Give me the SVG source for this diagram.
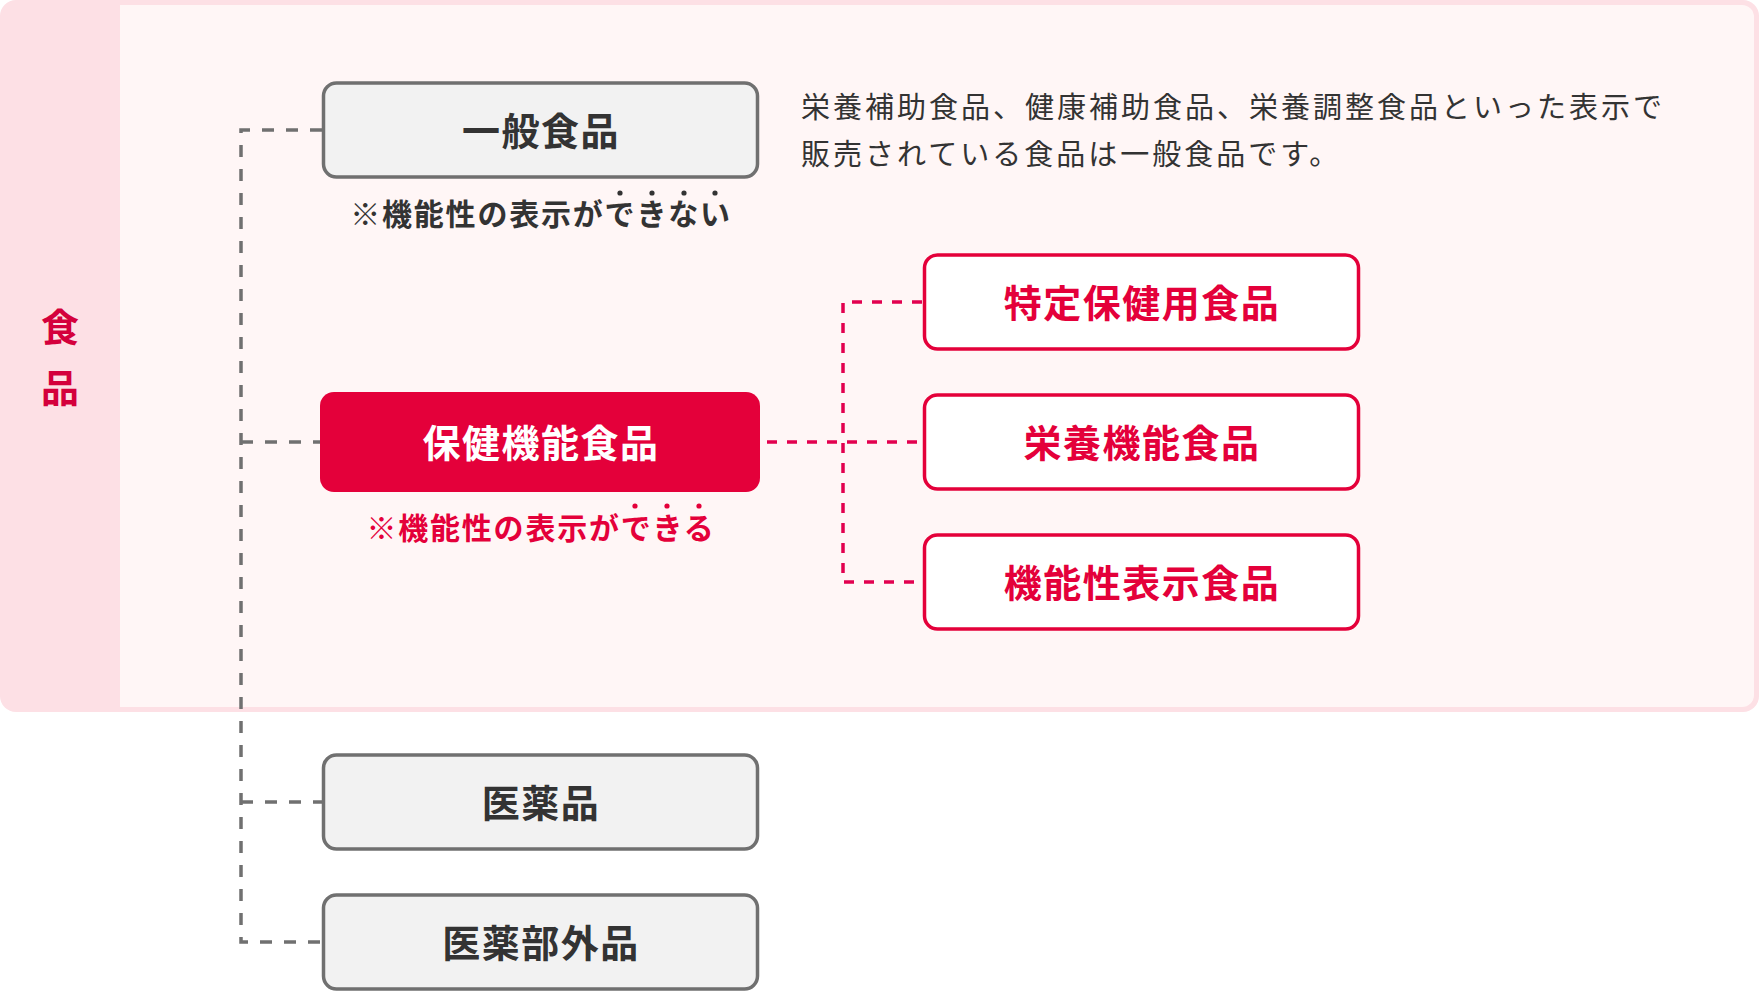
<svg xmlns="http://www.w3.org/2000/svg" width="1760" height="992" viewBox="0 0 1760 992">
  <style>
    text { font-family: "Noto Sans CJK JP", "Noto Sans", sans-serif; }
    .lbl { font-size: 38px; font-weight: 700; text-anchor: middle; letter-spacing: 1.5px; }
    .dark { fill: #333333; }
    .red { fill: #e4003a; }
    .white { fill: #ffffff; }
    .note { font-size: 30px; font-weight: 700; text-anchor: middle; letter-spacing: 1.8px; }
    .desc { font-size: 29px; font-weight: 400; fill: #333333; letter-spacing: 3px; }
    .gbox { fill: #f2f2f2; stroke: #707070; stroke-width: 3.5; }
    .rbox { fill: #ffffff; stroke: #e4003a; stroke-width: 3.5; }
    .gline { fill: none; stroke: #707070; stroke-width: 3.5; stroke-dasharray: 12 12; }
    .rline { fill: none; stroke: #e2004f; stroke-width: 3.5; stroke-dasharray: 10 10; }
  </style>

  <g id="food-frame">
    <rect x="0" y="0" width="1759" height="712" rx="16" fill="#fde0e5"/>
    <path d="M120 5 H1742 A12 12 0 0 1 1754 17 V695 A12 12 0 0 1 1742 707 H120 Z" fill="#fff6f6"/>
    <text class="lbl" x="60" y="341" fill="#d4003c" style="letter-spacing:0">食</text>
    <text class="lbl" x="60" y="402" fill="#d4003c" style="letter-spacing:0">品</text>
  </g>

  <g id="connectors">
    <path class="gline" d="M322 130 H241 V942 H322"/>
    <path class="gline" d="M241 442 H320"/>
    <path class="gline" d="M241 802 H322"/>
    <path class="rline" d="M767 442 H922"/>
    <path class="rline" d="M922 302 H843 V582 H922"/>
  </g>

  <g id="general-food">
    <rect class="gbox" x="323.5" y="83" width="434" height="94" rx="13"/>
    <text class="lbl dark" x="541" y="144.5">一般食品</text>
    <text class="note dark" x="541" y="225">※機能性の表示ができない</text>
    <circle cx="620" cy="193" r="2.6" fill="#333333"/>
    <circle cx="652" cy="193" r="2.6" fill="#333333"/>
    <circle cx="684" cy="193" r="2.6" fill="#333333"/>
    <circle cx="715" cy="193" r="2.6" fill="#333333"/>
  </g>

  <g id="description">
    <text class="desc" x="801" y="118">栄養補助食品、健康補助食品、栄養調整食品といった表示で</text>
    <text class="desc" x="801" y="165">販売されている食品は一般食品です。</text>
  </g>

  <g id="health-function-food">
    <rect x="320" y="392" width="440" height="100" rx="14" fill="#e4003a"/>
    <text class="lbl white" x="541" y="456.5">保健機能食品</text>
    <text class="note red" x="541" y="539">※機能性の表示ができる</text>
    <circle cx="635" cy="506" r="2.6" fill="#e4003a"/>
    <circle cx="667" cy="506" r="2.6" fill="#e4003a"/>
    <circle cx="699" cy="506" r="2.6" fill="#e4003a"/>
  </g>

  <g id="foshu">
    <rect class="rbox" x="924.5" y="255" width="434" height="94" rx="13"/>
    <text class="lbl red" x="1142" y="316.5">特定保健用食品</text>
  </g>

  <g id="nutrient-function-food">
    <rect class="rbox" x="924.5" y="395" width="434" height="94" rx="13"/>
    <text class="lbl red" x="1142" y="456.5">栄養機能食品</text>
  </g>

  <g id="function-claim-food">
    <rect class="rbox" x="924.5" y="535" width="434" height="94" rx="13"/>
    <text class="lbl red" x="1142" y="596.5">機能性表示食品</text>
  </g>

  <g id="pharmaceutical">
    <rect class="gbox" x="323.5" y="755" width="434" height="94" rx="13"/>
    <text class="lbl dark" x="541" y="816.5">医薬品</text>
  </g>

  <g id="quasi-drug">
    <rect class="gbox" x="323.5" y="895" width="434" height="94" rx="13"/>
    <text class="lbl dark" x="541" y="956.5">医薬部外品</text>
  </g>
</svg>
